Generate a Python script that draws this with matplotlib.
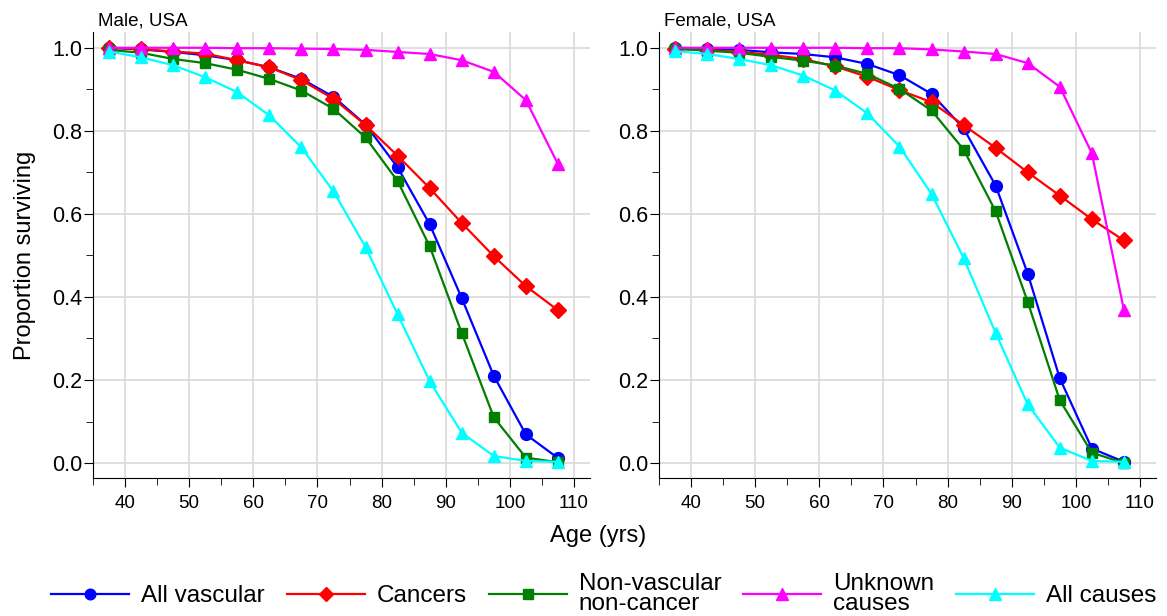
import numpy as np
import matplotlib
matplotlib.use("Agg")
import matplotlib.pyplot as plt
from matplotlib.ticker import MultipleLocator, FormatStrFormatter

plt.rcParams['font.family'] = ['Liberation Sans', 'DejaVu Sans']

# mid-points of the 5-year age bands
ages = [37.5, 42.5, 47.5, 52.5, 57.5, 62.5, 67.5, 72.5, 77.5, 82.5, 87.5, 92.5, 97.5, 102.5, 107.5]

male_vascular = [1.0, 0.996, 0.99, 0.982, 0.97, 0.953, 0.925, 0.882, 0.815, 0.712, 0.575, 0.397, 0.21, 0.069, 0.012]
male_cancer = [1.0, 0.997, 0.991, 0.986, 0.97, 0.953, 0.922, 0.877, 0.814, 0.74, 0.662, 0.578, 0.498, 0.426, 0.368]
male_other = [0.995, 0.988, 0.973, 0.963, 0.947, 0.925, 0.897, 0.853, 0.784, 0.679, 0.522, 0.313, 0.11, 0.013, 0.002]
male_unknown = [1.0, 1.0, 1.0, 1.0, 0.999, 0.999, 0.998, 0.997, 0.995, 0.99, 0.985, 0.97, 0.942, 0.874, 0.72]
male_all = [0.991, 0.977, 0.958, 0.929, 0.893, 0.837, 0.76, 0.654, 0.52, 0.358, 0.197, 0.073, 0.017, 0.005, 0.003]

female_vascular = [1.0, 0.998, 0.995, 0.989, 0.985, 0.977, 0.961, 0.934, 0.889, 0.806, 0.668, 0.456, 0.204, 0.035, 0.003]
female_cancer = [0.997, 0.995, 0.99, 0.983, 0.973, 0.955, 0.93, 0.898, 0.869, 0.814, 0.759, 0.7, 0.644, 0.587, 0.536]
female_other = [0.998, 0.993, 0.988, 0.978, 0.969, 0.957, 0.937, 0.901, 0.849, 0.755, 0.606, 0.388, 0.151, 0.025, 0.0]
female_unknown = [1.0, 1.0, 1.0, 1.0, 1.0, 1.0, 0.999, 0.999, 0.996, 0.991, 0.985, 0.963, 0.906, 0.746, 0.368]
female_all = [0.992, 0.985, 0.973, 0.958, 0.933, 0.897, 0.842, 0.762, 0.648, 0.494, 0.313, 0.141, 0.037, 0.005, 0.003]

labels = ["All vascular", "Cancers", "Non-vascular\nnon-cancer", "Unknown\ncauses", "All causes"]
colors = ["#0000ff", "#ff0000", "#007f00", "#ff00ff", "#00ffff"]
markers = ["o", "D", "s", "^", "^"]
msizes = [8.5, 8, 7.5, 9, 9]

panels = [
    ("Male, USA", [male_vascular, male_cancer, male_other, male_unknown, male_all]),
    ("Female, USA", [female_vascular, female_cancer, female_other, female_unknown, female_all]),
]

fig = plt.figure(figsize=(11.67, 6.16), dpi=100)
W, H = 1167, 616
ax_pos = [(93, 590), (659, 1156)]
top, bottom = 32, 478

handles = []
for i, (title, series) in enumerate(panels):
    x0, x1 = ax_pos[i]
    ax = fig.add_axes([x0 / W, 1 - bottom / H, (x1 - x0) / W, (bottom - top) / H])
    for k, vals in enumerate(series):
        h, = ax.plot(ages, vals, color=colors[k], marker=markers[k], ms=msizes[k],
                     lw=1.6, label=labels[k], zorder=3)
        if i == 0:
            handles.append(h)
    ax.set_xlim(35, 112.5)
    ax.set_ylim(-0.036, 1.038)
    ax.xaxis.set_major_locator(MultipleLocator(10))
    ax.xaxis.set_minor_locator(MultipleLocator(5))
    ax.yaxis.set_major_locator(MultipleLocator(0.2))
    ax.yaxis.set_minor_locator(MultipleLocator(0.1))
    ax.yaxis.set_major_formatter(FormatStrFormatter('%.1f'))
    ax.grid(True, which='major', color='#dcdcdc', lw=1.3, zorder=0)
    ax.set_axisbelow(True)
    for s in ['top', 'right']:
        ax.spines[s].set_visible(False)
    ax.tick_params(which='major', length=6.5, direction='out')
    ax.tick_params(which='minor', length=5, direction='out')
    ax.tick_params(axis='x', which='major', labelsize=13.5, pad=6)
    ax.tick_params(axis='y', which='major', labelsize=15.5, pad=1.5)
    ax.set_title(title, loc='left', fontsize=13.5, x=0.01, y=1.0, pad=5)
    if i == 0:
        ax.set_ylabel("Proportion surviving", fontsize=17, labelpad=11)

fig.text(598 / W, 1 - 536 / H, "Age (yrs)", ha='center', va='center', fontsize=17)

leg = fig.legend(handles=handles, labels=labels, loc='center', bbox_to_anchor=(604 / W, 1 - 594 / H),
                 ncol=5, frameon=False, fontsize=17.5, handlelength=3.2, markerscale=0.9,
                 columnspacing=0.9, handletextpad=0.5, borderpad=0)
for t in leg.get_texts():
    t.set_linespacing(0.88)

fig.savefig("out.png", dpi=100)
